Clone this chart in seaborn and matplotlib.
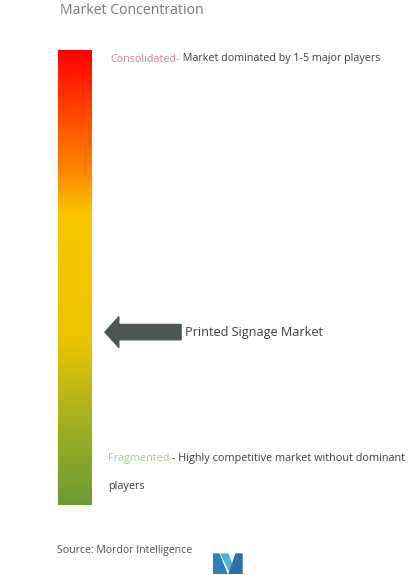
import numpy as np
import matplotlib
matplotlib.use("Agg")
import matplotlib.pyplot as plt
from matplotlib.colors import LinearSegmentedColormap
from matplotlib.patches import Polygon
import seaborn as sns

sns.set_theme(style="white")
plt.rcParams["font.family"] = ["Open Sans", "DejaVu Sans"]

# Concentration scale: 0 = fragmented, 1 = consolidated
scale_stops = [0.0, 0.2, 0.36, 0.64, 0.73, 0.86, 1.0]
scale_colors = ["#6b9a34", "#a9b21f", "#eac300", "#f8c500", "#ff8a00", "#ff4800", "#ff0000"]
market_name = "Printed Signage Market"
market_position = 0.38

title = "Market Concentration"
top_label = "Consolidated-"
top_text = " Market dominated by 1-5 major players"
bottom_label = "Fragmented"
bottom_text = [" - Highly competitive market without dominant", "players"]
source = "Source: Mordor Intelligence"

W, H = 420, 575
fig = plt.figure(figsize=(W / 100, H / 100), dpi=100)
fig.patch.set_facecolor("white")

def fx(px):
    return px / W

def fy(py):
    return 1 - py / H

# Gradient bar drawn as a single-column heatmap
cmap = LinearSegmentedColormap.from_list("conc", list(zip(scale_stops, scale_colors)))
levels = np.linspace(1, 0, 400).reshape(-1, 1)
bar_ax = fig.add_axes([fx(58), fy(505), fx(34), (505 - 50) / H])
sns.heatmap(levels, ax=bar_ax, cmap=cmap, vmin=0, vmax=1, cbar=False,
            xticklabels=False, yticklabels=False)
bar_ax.set_xlabel("")
bar_ax.set_ylabel("")

# Arrow pointing at the market's position on the scale
bar_ax.annotate("", xy=(1.38, market_position), xytext=(3.62, market_position),
                xycoords="axes fraction", textcoords="axes fraction",
                arrowprops=dict(arrowstyle="simple,head_width=1.1,head_length=0.5,tail_width=0.55",
                                color="#4b5551", mutation_scale=20, shrinkA=0, shrinkB=0),
                annotation_clip=False)
bar_ax.text(3.75, market_position, market_name, transform=bar_ax.transAxes,
            ha="left", va="center", fontsize=9.1, color="#3f3f3f")

fig.text(fx(60), fy(10), title, ha="left", va="center", fontsize=10.1, color="#777777")

t1 = fig.text(fx(110), fy(59), top_label, ha="left", va="center", fontsize=7.75, color="#cf8197")
plt.annotate(top_text, xy=(1, 0.5), xycoords=t1, ha="left", va="center",
             fontsize=7.75, color="#3f3f3f", annotation_clip=False)

t2 = fig.text(fx(108), fy(458), bottom_label, ha="left", va="center", fontsize=7.8, color="#a9c98c")
plt.annotate(bottom_text[0], xy=(1, 0.5), xycoords=t2, ha="left", va="center",
             fontsize=7.8, color="#3f3f3f", annotation_clip=False)
fig.text(fx(108), fy(487), bottom_text[1], ha="left", va="center",
         fontsize=7.8, color="#3f3f3f")

fig.text(fx(57), fy(550), source, ha="left", va="center", fontsize=7.6, color="#505050")

# Small two-tone logo
logo_ax = fig.add_axes([fx(213), fy(574), fx(30), 22 / H])
logo_ax.set_xlim(0, 30)
logo_ax.set_ylim(0, 22)
logo_ax.axis("off")
logo_ax.add_patch(Polygon([[0, 0], [0, 20], [6, 20], [14, 0]], color="#2f7fb8"))
logo_ax.add_patch(Polygon([[8, 20], [15, 20], [21, 4], [18, 0]], color="#4fb6d6"))
logo_ax.add_patch(Polygon([[16, 0], [23, 20], [29, 20], [29, 0]], color="#2a6fa8"))

fig.savefig("out.png", dpi=100, facecolor="white")
